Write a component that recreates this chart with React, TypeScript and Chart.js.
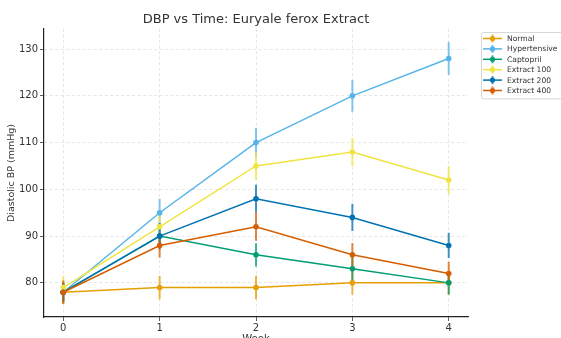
import React, { useEffect, useRef } from "react";
import { Chart, registerables } from "chart.js";

Chart.register(...registerables);

const weeks = [0, 1, 2, 3, 4];
const seriesNames = ["Normal", "Hypertensive", "Captopril", "Extract 100", "Extract 200", "Extract 400"];
const seriesColors = ["#E69F00", "#56B4E9", "#009E73", "#F0E442", "#0072B2", "#D55E00"];

const normal = [78, 79, 79, 80, 80];
const hypertensive = [78, 95, 110, 120, 128];
const captopril = [78, 90, 86, 83, 80];
const extract100 = [79, 92, 105, 108, 102];
const extract200 = [78, 90, 98, 94, 88];
const extract400 = [78, 88, 92, 86, 82];

const normalErr = [2.5, 2.5, 2.5, 2.5, 2.5];
const hypertensiveErr = [2, 3, 3.2, 3.4, 3.5];
const captoprilErr = [2, 2.5, 2.5, 2.5, 2.5];
const extract100Err = [2.5, 2.5, 3, 3, 3];
const extract200Err = [2, 2.8, 3, 2.9, 2.7];
const extract400Err = [2.5, 2.6, 3, 2.5, 2.5];

const seriesValues = [normal, hypertensive, captopril, extract100, extract200, extract400];
const seriesErrors = [normalErr, hypertensiveErr, captoprilErr, extract100Err, extract200Err, extract400Err];

const yTicks = [80, 90, 100, 110, 120, 130];

const W = 561;
const H = 350;
const FONT = "'DejaVu Sans', sans-serif";

function hexA(hex: string, a: number) {
  const r = parseInt(hex.slice(1, 3), 16);
  const g = parseInt(hex.slice(3, 5), 16);
  const b = parseInt(hex.slice(5, 7), 16);
  return `rgba(${r},${g},${b},${a})`;
}

const errorBarPlugin = {
  id: "errorBars",
  beforeDatasetsDraw(chart: any) {
    const ctx = chart.ctx;
    const xs = chart.scales.x;
    const ys = chart.scales.y;
    ctx.save();
    seriesValues.forEach((vals, si) => {
      ctx.strokeStyle = hexA(seriesColors[si], 0.75);
      ctx.lineWidth = 2;
      vals.forEach((v, i) => {
        const e = seriesErrors[si][i];
        const px = xs.getPixelForValue(weeks[i]);
        ctx.beginPath();
        ctx.moveTo(px, ys.getPixelForValue(v - e));
        ctx.lineTo(px, ys.getPixelForValue(v + e));
        ctx.stroke();
      });
    });
    ctx.restore();
  },
};

const legendPlugin = {
  id: "customLegend",
  afterDraw(chart: any) {
    const ctx = chart.ctx;
    const left = 481;
    const top = 32;
    const width = 82;
    const rowH = 10.4;
    const height = seriesNames.length * rowH + 4;
    ctx.save();
    ctx.fillStyle = "rgba(255,255,255,0.8)";
    ctx.strokeStyle = "#d8d8d8";
    ctx.lineWidth = 1;
    ctx.beginPath();
    if (ctx.roundRect) ctx.roundRect(left + 0.5, top + 0.5, width, height, 2);
    else ctx.rect(left + 0.5, top + 0.5, width, height);
    ctx.fill();
    ctx.stroke();
    ctx.font = `7.6px ${FONT}`;
    ctx.textBaseline = "middle";
    seriesNames.forEach((name, i) => {
      const cy = top + 6.5 + i * rowH;
      ctx.strokeStyle = seriesColors[i];
      ctx.lineWidth = 1.5;
      ctx.beginPath();
      ctx.moveTo(left + 2, cy);
      ctx.lineTo(left + 21, cy);
      ctx.stroke();
      ctx.strokeStyle = hexA(seriesColors[i], 0.75);
      ctx.lineWidth = 2;
      ctx.beginPath();
      ctx.moveTo(left + 11.5, cy - 4);
      ctx.lineTo(left + 11.5, cy + 4);
      ctx.stroke();
      ctx.fillStyle = seriesColors[i];
      ctx.beginPath();
      ctx.arc(left + 11.5, cy, 2.6, 0, Math.PI * 2);
      ctx.fill();
      ctx.fillStyle = "#333333";
      ctx.fillText(name, left + 26, cy + 0.5);
    });
    ctx.restore();
  },
};

export default function App() {
  const ref = useRef<HTMLCanvasElement | null>(null);

  useEffect(() => {
    document.body.style.margin = "0";
    document.body.style.overflow = "hidden";
    const canvas = ref.current;
    if (!canvas) return;
    const chart = new Chart(canvas, {
      type: "line",
      data: {
        datasets: seriesNames.map((name, si) => ({
          label: name,
          data: weeks.map((w, i) => ({ x: w, y: seriesValues[si][i] })),
          borderColor: seriesColors[si],
          backgroundColor: seriesColors[si],
          borderWidth: 1.5,
          pointRadius: 2.8,
          pointBorderWidth: 0,
          pointHoverRadius: 3,
          tension: 0,
          fill: false,
          order: seriesNames.length - si,
        })),
      },
      options: {
        animation: false,
        responsive: false,
        events: [],
        layout: { padding: { left: 2, right: 93, top: 0, bottom: 0 } },
        plugins: {
          legend: { display: false },
          tooltip: { enabled: false },
          title: {
            display: true,
            text: "DBP vs Time: Euryale ferox Extract",
            fullSize: false,
            color: "#333333",
            font: { family: FONT, size: 13, weight: "normal" },
            padding: { top: 12, bottom: 1.4 },
          },
        },
        scales: {
          x: {
            type: "linear",
            min: -0.2,
            max: 4.2,
            afterBuildTicks: (s: any) => {
              s.ticks = weeks.map((v) => ({ value: v }));
            },
            afterFit: (s: any) => {
              s.height = H - 317;
            },
            grid: {
              color: "#e0e0e0",
              lineWidth: 0.8,
              tickColor: "#333333",
              tickLength: 4,
              tickBorderDash: [],
            },
            border: { display: true, color: "#222222", width: 1.2, dash: [3, 2.5] },
            ticks: {
              color: "#333333",
              font: { family: FONT, size: 10 },
              padding: 1,
              maxRotation: 0,
              callback: (v: any) => String(v),
            },
            title: {
              display: true,
              text: "Week",
              color: "#333333",
              font: { family: FONT, size: 10 },
              padding: { top: 2, bottom: 5 },
            },
          },
          y: {
            type: "linear",
            min: 72.7,
            max: 134.3,
            afterBuildTicks: (s: any) => {
              s.ticks = yTicks.map((v) => ({ value: v }));
            },
            afterFit: (s: any) => {
              s.width = 42;
            },
            grid: {
              color: "#e0e0e0",
              lineWidth: 0.8,
              tickColor: "#333333",
              tickLength: 4,
              tickBorderDash: [],
            },
            border: { display: true, color: "#222222", width: 1.2, dash: [3, 2.5] },
            ticks: {
              color: "#333333",
              font: { family: FONT, size: 10 },
              padding: 2,
              callback: (v: any) => String(v),
            },
            title: {
              display: true,
              text: "Diastolic BP (mmHg)",
              color: "#333333",
              font: { family: FONT, size: 9.5 },
              padding: { top: 4, bottom: 2 },
            },
          },
        },
      },
      plugins: [errorBarPlugin, legendPlugin],
    } as any);
    return () => chart.destroy();
  }, []);

  return (
    <div style={{ width: W, height: 338, overflow: "hidden", background: "#fff" }}>
      <canvas ref={ref} width={W} height={H} style={{ display: "block", width: W, height: H }} />
    </div>
  );
}
